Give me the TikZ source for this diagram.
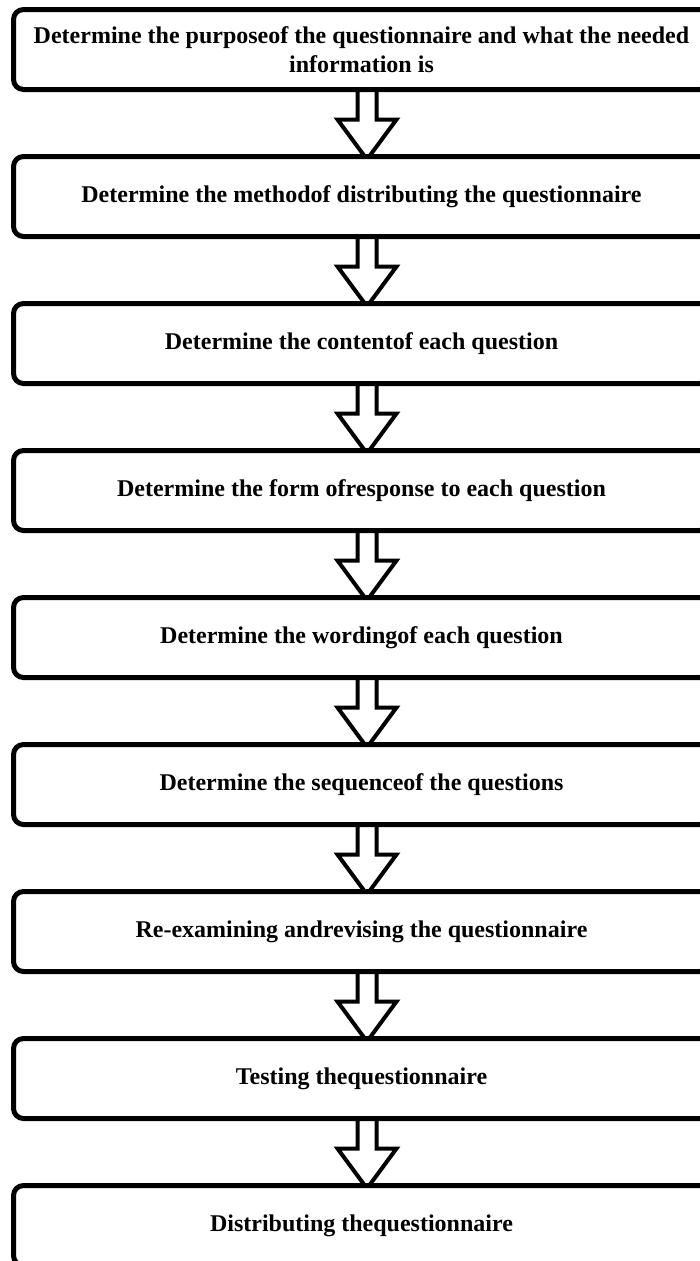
\documentclass[tikz,border=0pt]{standalone}
\usepackage{fontspec}
\setmainfont{Liberation Serif}
\usetikzlibrary{calc,backgrounds}
\tikzset{
  stepbox/.style={draw=black, line width=5pt, rounded corners=10pt, fill=white,
    minimum width=696pt, minimum height=80pt, inner sep=0pt, outer sep=0pt,
    align=center, font=\fontsize{24}{29}\selectfont\bfseries},
  blockarrow/.style={draw=black, line width=4pt, fill=white, line join=miter}
}
% hollow block arrow from the bottom of one step to the top of the next
\newcommand{\flowarrow}[2]{%
  \draw[blockarrow]
    ($(#1.south)+(-4,0)$) -- ($(#1.south)+(-4,-30)$) -- ($(#1.south)+(-24,-30)$)
    -- ($(#2.north)+(5.5,-3)$)
    -- ($(#1.south)+(35,-30)$) -- ($(#1.south)+(15,-30)$) -- ($(#1.south)+(15,0)$);}
\begin{document}
\begin{tikzpicture}[x=1pt,y=1pt]
\useasboundingbox (0,0) rectangle (700,-1261);
\foreach \i/\t in {
  0/{Determine the purposeof the questionnaire and what the needed\\information is},
  1/{Determine the methodof distributing the questionnaire},
  2/{Determine the contentof each question},
  3/{Determine the form ofresponse to each question},
  4/{Determine the wordingof each question},
  5/{Determine the sequenceof the questions},
  6/{Re-examining andrevising the questionnaire},
  7/{Testing thequestionnaire},
  8/{Distributing thequestionnaire}}
{\node[stepbox] (s\i) at (361.5,{-49.5-147*\i}) {\t};}
\begin{scope}[on background layer]
  \foreach \i [evaluate=\i as \j using int(\i+1)] in {0,...,7}
    {\flowarrow{s\i}{s\j}}
\end{scope}
\end{tikzpicture}
\end{document}
